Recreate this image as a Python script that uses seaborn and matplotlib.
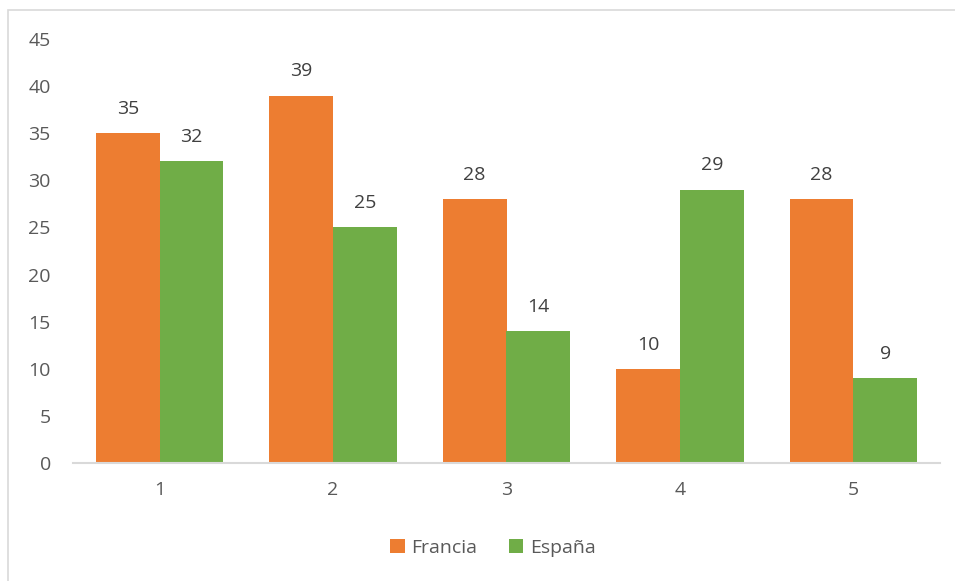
import matplotlib
matplotlib.use("Agg")
import matplotlib.pyplot as plt
import seaborn as sns
import pandas as pd
from matplotlib.patches import Rectangle

categories = ["1", "2", "3", "4", "5"]
francia = [35, 39, 28, 10, 28]
espana = [32, 25, 14, 29, 9]
series_names = ["Francia", "España"]
colors = ["#ED7D31", "#70AD47"]

df = pd.DataFrame({
    "cat": categories * 2,
    "valor": francia + espana,
    "serie": [series_names[0]] * len(categories) + [series_names[1]] * len(categories),
})

sns.set_theme(style="white")
plt.rcParams["font.family"] = ["Open Sans", "DejaVu Sans"]

fig = plt.figure(figsize=(9.55, 5.81), dpi=100)
ax = fig.add_axes([73 / 955, 1 - 463 / 581, 867 / 955, 424 / 581])

# light frame around the whole chart area
fig.patches.append(Rectangle((8 / 955, -0.01), 1.0, 1 - 10 / 581 + 0.01,
                             transform=fig.transFigure, fill=False,
                             edgecolor="#D9D9D9", linewidth=1.2))

sns.barplot(data=df, x="cat", y="valor", hue="serie", palette=colors,
            width=0.735, gap=0, saturation=1, ax=ax, legend=True,
            linewidth=0)

for cont in ax.containers:
    ax.bar_label(cont, labels=[f"{int(v)}" for v in cont.datavalues],
                 padding=11, fontsize=14, color="#404040")

ax.set_ylim(0, 45)
ax.set_xlim(-0.5, 4.5)
ax.set_yticks(range(0, 46, 5))
ax.set_xlabel("")
ax.set_ylabel("")
ax.tick_params(axis="both", length=0, labelsize=14, colors="#595959")
ax.tick_params(axis="x", pad=13)
ax.tick_params(axis="y", pad=16)

for side in ["top", "right", "left"]:
    ax.spines[side].set_visible(False)
ax.spines["bottom"].set_color("#D9D9D9")
ax.spines["bottom"].set_linewidth(1.5)

ax.legend(loc="center", ncol=2, frameon=False,
          fontsize=14, handlelength=0.75, handleheight=0.75, handletextpad=0.35,
          columnspacing=1.6, labelcolor="#595959",
          bbox_to_anchor=(493 / 955, 1 - 548 / 581), bbox_transform=fig.transFigure)

fig.savefig("out.png", dpi=100)
